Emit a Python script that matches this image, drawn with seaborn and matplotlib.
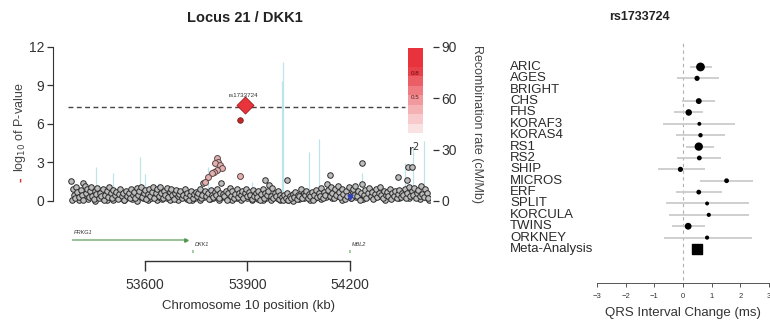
import numpy as np
import pandas as pd
import matplotlib
matplotlib.use("Agg")
import matplotlib.pyplot as plt
import matplotlib.transforms as mtrans
from matplotlib.colors import LinearSegmentedColormap
import seaborn as sns

sns.set_style("white")
plt.rcParams['font.family'] = ['Liberation Sans', 'DejaVu Sans']

# ---- regional association data (kb, -log10 p) ----
snp_pos = [53384, 53390, 53392, 53395, 53399, 53402, 53406, 53413, 53417, 53419, 53420, 53424, 53428,
           53431, 53435, 53439, 53442, 53446, 53450, 53453, 53457, 53461, 53465, 53469, 53472, 53476,
           53480, 53484, 53488, 53492, 53496, 53500, 53504, 53508, 53512, 53516, 53520, 53524, 53528,
           53532, 53536, 53540, 53544, 53548, 53552, 53556, 53560, 53564, 53568, 53572, 53576, 53580,
           53584, 53588, 53592, 53596, 53600, 53604, 53608, 53612, 53616, 53620, 53624, 53628, 53632,
           53636, 53640, 53644, 53648, 53652, 53656, 53660, 53664, 53668, 53672, 53676, 53680, 53684,
           53688, 53692, 53696, 53700, 53704, 53708, 53712, 53716, 53720, 53724, 53728, 53732, 53736,
           53740, 53744, 53748, 53752, 53756, 53760, 53764, 53768, 53770, 53776, 53780, 53784, 53788,
           53792, 53796, 53800, 53804, 53808, 53812, 53816, 53820, 53824, 53828, 53832, 53836, 53840,
           53844, 53848, 53852, 53856, 53860, 53864, 53868, 53872, 53876, 53880, 53884, 53888, 53892,
           53896, 53900, 53904, 53908, 53912, 53916, 53920, 53924, 53928, 53932, 53936, 53940, 53944,
           53948, 53951, 53952, 53956, 53960, 53964, 53968, 53972, 53976, 53980, 53984, 53988, 53992,
           53996, 54000, 54004, 54008, 54012, 54015, 54016, 54020, 54024, 54028, 54032, 54036, 54040,
           54044, 54048, 54052, 54056, 54060, 54064, 54068, 54072, 54076, 54080, 54084, 54088, 54092,
           54096, 54100, 54104, 54108, 54112, 54116, 54120, 54124, 54128, 54132, 54136, 54140, 54141,
           54144, 54148, 54152, 54156, 54160, 54164, 54168, 54172, 54176, 54180, 54184, 54188, 54192,
           54196, 54204, 54208, 54212, 54216, 54220, 54224, 54228, 54232, 54234, 54236, 54240,
           54244, 54248, 54252, 54256, 54260, 54264, 54268, 54272, 54276, 54280, 54284, 54288, 54292,
           54296, 54300, 54304, 54308, 54312, 54316, 54320, 54324, 54328, 54332, 54336, 54340, 54341,
           54344, 54348, 54352, 54356, 54360, 54364, 54366, 54368, 54371, 54372, 54376, 54380, 54381,
           54384, 54388, 54392, 54396, 54400, 54404, 54408, 54412, 54416, 54420, 54424, 54428]
snp_logp = [1.58, 0.9, 0.5, 0.2, 1.1, 0.7, 0.3, 0.85, 0.45, 1.38, 0.1, 1.2, 0.6,
            0.95, 0.3, 0.75, 1.05, 0.4, 0.15, 0.8, 0.55, 1.0, 0.25, 0.65, 0.35, 0.9,
            0.05, 0.5, 0.75, 0.3, 1.1, 0.6, 0.2, 0.85, 0.45, 0.7, 0.15, 0.55, 0.95,
            0.35, 0.65, 0.1, 0.8, 0.4, 0.6, 0.25, 0.9, 0.5, 0.7, 0.2, 1.0, 0.45,
            0.75, 1.1, 0.3, 0.6, 0.85, 0.15, 0.55, 0.95, 0.35, 0.7, 1.05, 0.25, 0.6,
            0.9, 0.4, 1.1, 0.65, 0.2, 0.8, 0.5, 1.0, 0.3, 0.7, 0.9, 0.45, 0.15,
            0.6, 0.85, 0.35, 0.55, 0.75, 0.2, 0.5, 0.9, 0.3, 0.65, 0.1, 0.45, 0.8,
            0.25, 0.55, 0.7, 0.35, 0.6, 0.9, 0.2, 0.5, 1.37, 0.75, 0.4, 0.6, 0.15,
            0.85, 0.5, 0.3, 0.7, 0.45, 0.9, 0.2, 0.65, 1.37, 0.55, 0.35, 0.8, 0.1,
            0.6, 1.0, 0.4, 0.75, 0.25, 0.55, 0.9, 0.3, 0.65, 0.45, 0.8, 0.2, 0.6,
            0.95, 0.35, 0.7, 0.5, 0.15, 0.85, 0.4, 0.6, 0.3, 0.75, 0.1, 0.55, 0.9,
            0.25, 1.64, 0.65, 0.45, 0.8, 1.25, 0.35, 1.0, 0.2, 0.6, 0.4, 0.75, 0.15,
            0.5, 0.3, 0.05, 0.45, 0.25, 1.64, 0.6, 0.1, 0.4, 0.2, 0.55, 0.3, 0.7,
            0.15, 0.5, 0.35, 0.9, 0.25, 0.6, 0.45, 0.8, 0.2, 0.55, 0.35, 0.7, 0.1,
            0.5, 0.85, 0.3, 0.6, 0.4, 1.0, 0.25, 0.7, 0.5, 1.3, 0.85, 0.35, 2.0,
            1.1, 0.6, 0.2, 0.9, 0.45, 1.2, 0.7, 0.3, 0.95, 0.55, 0.15, 0.8, 0.4,
            1.05, 0.25, 0.9, 0.5, 1.15, 0.35, 0.75, 0.1, 0.6, 2.94, 1.3, 0.45,
            0.85, 0.2, 0.65, 1.0, 0.4, 0.7, 0.15, 0.55, 0.9, 0.3, 0.6, 1.1, 0.45,
            0.25, 0.8, 0.5, 0.7, 0.35, 0.95, 0.15, 0.6, 0.4, 0.75, 0.2, 0.55, 1.9,
            0.85, 0.3, 0.65, 0.45, 0.9, 0.2, 1.64, 0.6, 2.62, 1.1, 0.35, 0.75, 2.62,
            0.5, 1.0, 0.25, 0.65, 0.85, 0.4, 1.2, 0.55, 0.3, 0.9, 0.6, 0.2]

# extra low-significance SNPs filling the bottom of the band
snp2_pos = [53386, 53397, 53408, 53415, 53426, 53433, 53444, 53455, 53463, 53474,
            53482, 53490, 53498, 53506, 53514, 53522, 53530, 53538, 53546, 53554,
            53562, 53570, 53578, 53586, 53594, 53602, 53610, 53618, 53626, 53634,
            53642, 53650, 53658, 53666, 53674, 53682, 53690, 53698, 53706, 53714,
            53722, 53730, 53738, 53746, 53754, 53762, 53774, 53782, 53790, 53798,
            53806, 53818, 53830, 53838, 53846, 53854, 53862, 53870, 53882, 53890,
            53898, 53906, 53914, 53922, 53930, 53938, 53946, 53954, 53962, 53970,
            53978, 53986, 53994, 54002, 54010, 54018, 54026, 54034, 54042, 54050,
            54058, 54066, 54074, 54082, 54090, 54098, 54106, 54114, 54122, 54130,
            54138, 54146, 54154, 54162, 54170, 54178, 54186, 54194, 54202, 54210,
            54218, 54226, 54238, 54246, 54254, 54262, 54270, 54278, 54286, 54294,
            54302, 54310, 54318, 54326, 54334, 54342, 54350, 54358, 54366, 54374,
            54382, 54390, 54398, 54406, 54414, 54422, 54430]
snp2_logp = [0.1, 0.35, 0.05, 0.25, 0.5, 0.15, 0.4, 0.0, 0.3, 0.2,
             0.45, 0.1, 0.3, 0.05, 0.35, 0.2, 0.5, 0.1, 0.25, 0.4,
             0.15, 0.3, 0.0, 0.45, 0.2, 0.35, 0.1, 0.25, 0.5, 0.05,
             0.3, 0.15, 0.4, 0.2, 0.05, 0.35, 0.25, 0.1, 0.45, 0.3,
             0.15, 0.4, 0.05, 0.2, 0.35, 0.1, 0.3, 0.5, 0.15, 0.25,
             0.4, 0.05, 0.3, 0.2, 0.45, 0.1, 0.35, 0.25, 0.05, 0.4,
             0.2, 0.3, 0.1, 0.45, 0.15, 0.35, 0.05, 0.25, 0.4, 0.1,
             0.3, 0.2, 0.05, 0.15, 0.35, 0.1, 0.25, 0.0, 0.3, 0.15,
             0.4, 0.2, 0.55, 0.1, 0.35, 0.25, 0.6, 0.15, 0.45, 0.3,
             0.7, 0.2, 0.5, 0.35, 0.65, 0.1, 0.4, 0.55, 0.25, 0.7,
             0.3, 0.5, 0.15, 0.6, 0.4, 0.75, 0.2, 0.55, 0.35, 0.65,
             0.1, 0.45, 0.7, 0.3, 0.5, 0.2, 0.6, 0.4, 0.8, 0.25,
             0.55, 0.35, 0.65, 0.15, 0.5, 0.3, 0.1]

# SNPs in LD with the lead variant
ld_pos = [53810, 53815, 53805, 53820, 53825, 53812, 53803, 53795, 53785, 53776, 53878]
ld_logp = [3.33, 3.07, 2.94, 2.8, 2.55, 2.42, 2.28, 2.15, 1.9, 1.5, 1.95]

lead_snp = "rs1733724"
lead_pos, lead_logp = 53893, 7.5
proxy_pos, proxy_logp = 53878, 6.3
blue_pos, blue_logp = 54200, 0.33

sig_line = 7.3

# recombination rate spikes (kb, cM/Mb)
recomb_pos = [53456, 53506, 53585, 53600, 53638, 53784, 53912, 54000, 54003, 54080, 54110, 54234, 54361, 54385, 54415]
recomb_rate = [19.7, 16.5, 25.9, 15.8, 10.5, 20.0, 11.0, 70.0, 81.0, 28.8, 36.0, 16.4, 22.0, 31.7, 35.0]

# genes (start, end, label)
gene_names = ["PRKG1", "DKK1", "MBL2"]
gene_start = [53386, 53739, 54198]
gene_end = [53720, 53742, 54201]

r2_levels = [1.0, 0.9, 0.8, 0.7, 0.6, 0.5, 0.4, 0.3, 0.2]

# ---- forest plot data ----
cohorts = ["ARIC", "AGES", "BRIGHT", "CHS", "FHS", "KORAF3", "KORAS4", "RS1", "RS2", "SHIP",
           "MICROS", "ERF", "SPLIT", "KORCULA", "TWINS", "ORKNEY", "Meta-Analysis"]
beta = [0.61, 0.49, np.nan, 0.55, 0.20, 0.57, 0.61, 0.55, 0.57, -0.09, 1.52, 0.55, 0.84, 0.90, 0.18, 0.84, 0.49]
ci_lo = [0.23, -0.20, np.nan, -0.03, -0.32, -0.69, -0.24, 0.09, -0.20, -0.88, 0.59, -0.26, -0.61, -0.49, -0.38, -0.67, 0.41]
ci_hi = [1.00, 1.25, np.nan, 1.13, 0.70, 1.83, 1.46, 1.07, 1.34, 0.75, 2.43, 1.37, 2.29, 2.29, 0.75, 2.41, 0.57]
weight = [40, 14, 0, 18, 22, 8, 10, 36, 12, 14, 12, 12, 8, 9, 24, 9, 0]

W, H = 770, 327
fig = plt.figure(figsize=(W / 100, H / 100), dpi=100)


def px_axes(x0, y0, x1, y1):
    return fig.add_axes([x0 / W, 1 - y1 / H, (x1 - x0) / W, (y1 - y0) / H])


dark = "#333333"
xlim = (53375, 54434)

# ---- main LocusZoom panel ----
ax = px_axes(68, 43.15, 430, 204.8)
ax2 = ax.twinx()
ax.set_zorder(ax2.get_zorder() + 1)
ax.patch.set_visible(False)

ax2.vlines(recomb_pos, 0, recomb_rate, color="#bfe3ea", lw=0.9)
ax2.set_ylim(-0.3 * 7.5, 12.3 * 7.5)

snps = pd.DataFrame({"pos": snp2_pos + snp_pos, "logp": snp2_logp + snp_logp})
sns.scatterplot(data=snps, x="pos", y="logp", ax=ax, s=16, color="#bdbdbd",
                edgecolor="#2a2a2a", linewidth=0.7, legend=False)
ld = pd.DataFrame({"pos": ld_pos, "logp": ld_logp})
sns.scatterplot(data=ld, x="pos", y="logp", ax=ax, s=18, color="#e3b0b0",
                edgecolor="#5a4545", linewidth=0.7, legend=False)
ax.scatter([blue_pos], [blue_logp], s=12, marker="v", color="#3040c0", zorder=5)
ax.scatter([proxy_pos], [proxy_logp], s=16, color="#c02a2a", edgecolor="#7a1a1a", linewidth=0.6, zorder=5)
ax.scatter([lead_pos], [lead_logp], s=75, marker="D", color="#e8343c", edgecolor="#a01818", linewidth=0.6, zorder=6)
ax.text(lead_pos - 5, lead_logp + 0.55, lead_snp, fontsize=4.5, ha="center", va="bottom", color=dark)

ax.axhline(sig_line, xmin=0, xmax=(54362 - xlim[0]) / (xlim[1] - xlim[0]), color="#444444",
           lw=1.0, ls=(0, (3.5, 2.5)))

ax.set_xlim(*xlim)
ax.set_ylim(-0.3, 12.3)
ax.set_xlabel("")
ax.set_ylabel("")
ax.set_xticks([])
ax.set_yticks([0, 3, 6, 9, 12])
for s in ["top", "right", "bottom"]:
    ax.spines[s].set_visible(False)
    ax2.spines[s].set_visible(False)
ax2.spines["left"].set_visible(False)
ax.spines["left"].set_bounds(0, 12)
ax.spines["left"].set_position(("outward", 11))
ax.spines["left"].set_color(dark)
ax.tick_params(axis="y", direction="out", length=4, width=0.9, color=dark, labelsize=10,
               labelcolor=dark, pad=2, left=True)
ax2.set_yticks([0, 30, 60, 90])
ax2.spines["right"].set_bounds(0, 90)
ax2.spines["right"].set_position(("outward", 2))
ax2.spines["right"].set_color(dark)
ax2.tick_params(axis="y", direction="out", length=4, width=0.9, color=dark, labelsize=10,
                labelcolor=dark, pad=2, right=True)

fig.text(245 / W, 1 - 18 / H, "Locus 21 / DKK1", ha="center", va="center", fontsize=10.5,
         fontweight="bold", color="#222222")
fig.text(20 / W, 1 - 172 / H, "log$_{10}$ of P-value", rotation=90, ha="center", va="bottom",
         fontsize=9, color="#444444")
fig.text(20 / W, 1 - 180 / H, "-", rotation=90, ha="center", va="center",
         fontsize=10, color="#d03030", fontweight="bold")
fig.text(477 / W, 1 - 124 / H, "Recombination rate (cM/Mb)", rotation=270, ha="center",
         va="center", fontsize=9, color="#444444")

# r^2 legend
cax = px_axes(408, 48, 423, 133)
cmap = LinearSegmentedColormap.from_list("r2", ["#fdeeee", "#f29a9e", "#e8323c"])
cax.imshow(np.array(r2_levels)[:, None], aspect="auto", cmap=cmap, vmin=0.15, vmax=0.85,
           extent=(0, 1, 0, 1))
cax.set_axis_off()
cax.text(0.5, 0.70, "0.8", fontsize=4.5, ha="center", va="center", color="#5a1010", transform=cax.transAxes)
cax.text(0.5, 0.42, "0.5", fontsize=4.5, ha="center", va="center", color="#5a1010", transform=cax.transAxes)
fig.text(414 / W, 1 - 150 / H, "r$^2$", ha="center", va="center", fontsize=10, color=dark)

# ---- gene track ----
gax = px_axes(68, 225, 430, 261)
gax.set_xlim(*xlim)
gax.set_ylim(0, 1)
gene_y = [0.58, 0.27, 0.27]
for name, x0, x1, gy in zip(gene_names, gene_start, gene_end, gene_y):
    gax.plot([x0, x1], [gy, gy], color="#4f9a4f" if name != "PRKG1" else "#86b886",
             lw=1.2 if name == "PRKG1" else 2.2, solid_capstyle="butt")
    gax.text(x0 + 8 if name != "PRKG1" else x0 + 5, gy + 0.13, name, fontsize=4, fontstyle="italic",
             ha="left", va="bottom", color=dark)
gax.plot([gene_end[0]], [gene_y[0]], marker=">", ms=2.5, color="#4f9a4f")
for s in ["top", "right", "left"]:
    gax.spines[s].set_visible(False)
gax.set_yticks([])
gax.set_xticks([53600, 53900, 54200])
gax.spines["bottom"].set_bounds(53600, 54200)
gax.spines["bottom"].set_color(dark)
gax.spines["bottom"].set_linewidth(1.0)
gax.tick_params(axis="x", direction="out", length=7, width=1.0, color=dark, labelsize=10,
                labelcolor=dark, pad=5, bottom=True)
gax.set_xlabel("Chromosome 10 position (kb)", fontsize=9.5, color=dark, labelpad=6)

# ---- forest plot ----
fax = px_axes(597, 40, 769, 283)
rows = list(range(len(cohorts)))
fax.set_ylim(18.99, -2.37)
fax.set_xlim(-3, 3)
fax.axvline(0, ymin=0.012, ymax=1, color="#b0b0b0", lw=0.8, ls=(0, (3, 3)))
for r, lo, hi in zip(rows[:-1], ci_lo[:-1], ci_hi[:-1]):
    if not np.isnan(lo):
        fax.plot([lo, hi], [r, r], color="#cccccc", lw=1.3, solid_capstyle="butt")
forest = pd.DataFrame({"beta": beta[:-1], "row": rows[:-1], "w": weight[:-1]}).dropna()
sns.scatterplot(data=forest, x="beta", y="row", ax=fax, s=forest["w"].values, color="black",
                edgecolor="black", linewidth=0, legend=False, zorder=3)
fax.scatter([beta[-1]], [rows[-1]], marker="s", s=55, color="black", zorder=3)
fax.set_ylabel("")
fax.set_yticks([])
for s in ["top", "right", "left"]:
    fax.spines[s].set_visible(False)
fax.spines["bottom"].set_color("#555555")
fax.spines["bottom"].set_linewidth(0.7)
fax.set_xticks([-3, -2, -1, 0, 1, 2, 3])
fax.tick_params(axis="x", direction="out", length=3, width=0.7, color="#555555", labelsize=5.5,
                labelcolor=dark, pad=4, bottom=True)
fax.set_xlabel("QRS Interval Change (ms)", fontsize=9.5, color=dark, labelpad=5)
lab_tr = mtrans.blended_transform_factory(fig.transFigure, fax.transData)
for r, name in zip(rows, cohorts):
    fax.text(510 / W, r, name, transform=lab_tr, ha="left", va="center", fontsize=9.5,
             color="#2a2a2a")
fig.text(639 / W, 1 - 17 / H, lead_snp, ha="center", va="center", fontsize=9,
         fontweight="bold", color="#222222")

fig.savefig("out.png", dpi=100)
